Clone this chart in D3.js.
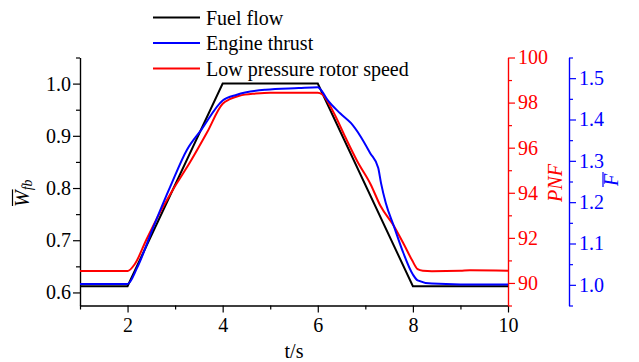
<!DOCTYPE html>
<html>
<head>
<meta charset="utf-8">
<script src="https://cdn.jsdelivr.net/npm/d3@7/dist/d3.min.js"></script>
<style>
  html, body { margin: 0; padding: 0; background: #fff; }
  svg { display: block; font-family: "Liberation Serif", "Times New Roman", serif; }
</style>
</head>
<body>
<svg id="chart" width="639" height="362"></svg>
<script>
// Fuel flow (normalised), left axis
const fuelTime = [1, 2, 4, 6, 8, 10];
const fuelFlow = [0.612, 0.612, 1.0, 1.0, 0.612, 0.612];

// Engine thrust (normalised), outer right axis
const thrustTime  = [1, 2.0, 2.2, 2.55, 2.9, 3.25, 3.55, 4.0, 4.3, 4.9, 5.6, 6.0, 6.05, 6.2, 6.47, 6.7, 6.9, 7.1, 7.27, 7.33, 7.43, 7.6, 7.8, 8.0, 8.1, 8.4, 9.0, 10];
const thrustValue = [1.002, 1.002, 1.041, 1.142, 1.238, 1.327, 1.375, 1.446, 1.460, 1.472, 1.476, 1.478, 1.474, 1.448, 1.415, 1.391, 1.359, 1.319, 1.283, 1.246, 1.198, 1.142, 1.077, 1.025, 1.011, 1.003, 1.001, 1.001];

// Low pressure rotor speed PNF (%), inner right axis
const speedTime  = [1, 2.0, 2.15, 2.4, 2.68, 2.96, 3.31, 3.67, 4.0, 4.15, 4.35, 4.7, 5.0, 6.0, 6.09, 6.33, 6.58, 6.83, 7.11, 7.32, 7.6, 7.81, 7.99, 8.1, 8.21, 8.4, 9.0, 9.2, 10];
const speedValue = [90.53, 90.53, 90.83, 91.94, 93.12, 94.16, 95.34, 96.67, 97.95, 98.15, 98.3, 98.4, 98.44, 98.44, 98.37, 97.57, 96.46, 95.40, 94.38, 93.41, 92.53, 91.72, 90.98, 90.61, 90.54, 90.52, 90.54, 90.56, 90.54];

// Tick values
const xMajor = [2, 4, 6, 8, 10];
const xMinor = [1, 3, 5, 7, 9];
const wMajor = [0.6, 0.7, 0.8, 0.9, 1.0];
const wMinor = [0.65, 0.75, 0.85, 0.95, 1.05];
const pnfMajor = [90, 92, 94, 96, 98, 100];
const pnfMinor = [89, 91, 93, 95, 97, 99];
const fMajor = [1.0, 1.1, 1.2, 1.3, 1.4, 1.5];
const fMinor = [0.95, 1.05, 1.15, 1.25, 1.35, 1.45, 1.55];

const legendLabels = ["Fuel flow", "Engine thrust", "Low pressure rotor speed"];
const seriesColors = ["#000000", "#0000ff", "#ff0000"];

const svg = d3.select("#chart");
const FS = 20;
const plotTop = 57.5, plotBottom = 305.5, plotLeft = 80, plotRight = 508;

const x  = d3.scaleLinear().domain([1, 10]).range([plotLeft, plotRight]);
const yW = d3.scaleLinear().domain([0.575, 1.05]).range([plotBottom, plotTop]);
const yP = d3.scaleLinear().domain([89, 100]).range([plotBottom, plotTop]);
const yF = d3.scaleLinear().domain([0.95, 1.55]).range([plotBottom, plotTop]);

function styleAxis(g, color) {
  g.selectAll("path.domain").attr("stroke", color).attr("stroke-width", 1.2);
  g.selectAll(".tick line").attr("stroke", color).attr("stroke-width", 1.2);
  g.selectAll(".tick text").attr("fill", color).attr("font-size", FS)
    .attr("font-family", "Liberation Serif, Times New Roman, serif");
}

function drawAxis(axisFn, scale, major, minor, fmt, pos, color, pad) {
  const gMin = svg.append("g").attr("transform", pos)
    .call(axisFn(scale).tickValues(minor).tickSize(4).tickSizeOuter(0).tickFormat(""));
  styleAxis(gMin, color);
  const gMaj = svg.append("g").attr("transform", pos)
    .call(axisFn(scale).tickValues(major).tickSize(7).tickSizeOuter(0).tickPadding(pad).tickFormat(fmt));
  styleAxis(gMaj, color);
}

drawAxis(d3.axisBottom, x, xMajor, xMinor, d3.format("d"), `translate(0,${plotBottom})`, "#000", 5);
drawAxis(d3.axisLeft, yW, wMajor, wMinor, d3.format(".1f"), `translate(${plotLeft},0)`, "#000", 2);
drawAxis(d3.axisRight, yP, pnfMajor, pnfMinor, d3.format("d"), `translate(${plotRight},0)`, "#ff0000", 3);
drawAxis(d3.axisRight, yF, fMajor, fMinor, d3.format(".1f"), `translate(569,0)`, "#0000ff", 3);

// Series lines
const fuelLine = d3.line().x((d, i) => x(fuelTime[i])).y(d => yW(d));
const thrustLine = d3.line().curve(d3.curveMonotoneX).x((d, i) => x(thrustTime[i])).y(d => yF(d));
const speedLine = d3.line().curve(d3.curveMonotoneX).x((d, i) => x(speedTime[i])).y(d => yP(d));

svg.append("path").attr("d", fuelLine(fuelFlow)).attr("fill", "none")
  .attr("stroke", seriesColors[0]).attr("stroke-width", 2);
svg.append("path").attr("d", speedLine(speedValue)).attr("fill", "none")
  .attr("stroke", seriesColors[2]).attr("stroke-width", 2);
svg.append("path").attr("d", thrustLine(thrustValue)).attr("fill", "none")
  .attr("stroke", seriesColors[1]).attr("stroke-width", 2);

// Legend
const legend = svg.append("g");
legendLabels.forEach((label, i) => {
  const ly = 17.5 + i * 25.5;
  legend.append("line").attr("x1", 153).attr("x2", 200).attr("y1", ly).attr("y2", ly)
    .attr("stroke", seriesColors[i]).attr("stroke-width", 2);
  legend.append("text").attr("x", 206).attr("y", ly + 7).attr("font-size", FS)
    .attr("fill", "#000").text(label);
});

// X axis title
svg.append("text").attr("x", (plotLeft + plotRight) / 2).attr("y", 358).attr("text-anchor", "middle")
  .attr("font-size", FS).text("t/s");

// Left title: W with overbar, subscript fb
const wt = svg.append("g").attr("transform", "translate(28.5,207) rotate(-90)");
const wText = wt.append("text").attr("x", 0).attr("y", 0).attr("font-size", FS)
  .attr("font-style", "italic");
wText.append("tspan").text("W");
wText.append("tspan").attr("font-size", 14).attr("dy", 3).text("fb");
const wWidth = FS * 0.83;
wt.append("line").attr("x1", 1).attr("x2", wWidth + 1).attr("y1", -16).attr("y2", -16)
  .attr("stroke", "#000").attr("stroke-width", 1.2);

// Inner right title: PNF
svg.append("text").attr("transform", "translate(562,183) rotate(-90)")
  .attr("text-anchor", "middle").attr("font-size", FS).attr("font-style", "italic")
  .attr("fill", "#ff0000").text("PNF");

// Outer right title: F with overbar
const ft = svg.append("g").attr("transform", "translate(618,180) rotate(-90)");
ft.append("text").attr("text-anchor", "middle").attr("font-size", FS).attr("font-style", "italic")
  .attr("fill", "#0000ff").text("F");
ft.append("line").attr("x1", -7).attr("x2", 8).attr("y1", -15).attr("y2", -15)
  .attr("stroke", "#0000ff").attr("stroke-width", 1.2);
</script>
</body>
</html>
